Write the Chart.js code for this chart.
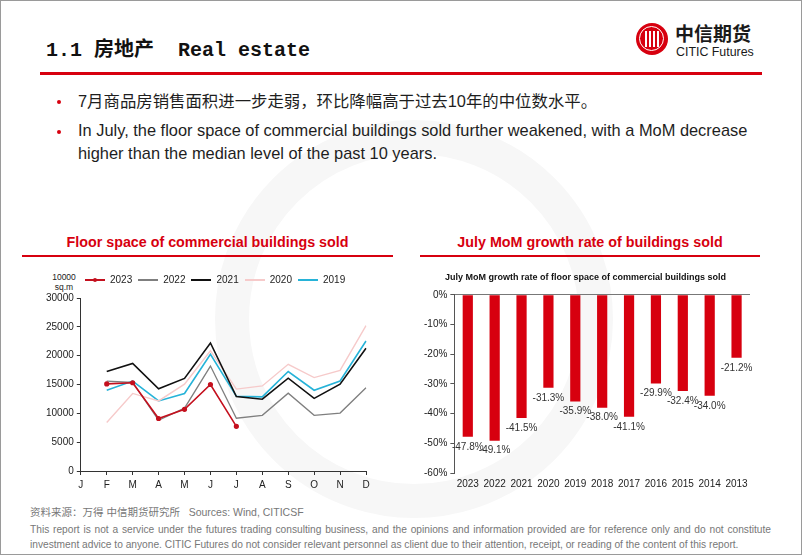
<!DOCTYPE html>
<html lang="zh">
<head>
    <meta charset="UTF-8">
    <title>1.1 房地产 Real estate</title>
    <script src="https://cdn.jsdelivr.net/npm/chart.js"></script>
    <style>
        html, body {
            margin: 0;
            padding: 0;
            background: #fff;
        }
        body {
            width: 802px;
            height: 555px;
            position: relative;
            overflow: hidden;
            font-family: "Liberation Sans", Arial, "Noto Sans CJK SC", sans-serif;
            color: #1e1e1e;
        }
        .frame {
            position: absolute;
            left: 0; top: 0;
            width: 800px; height: 553px;
            border: 1px solid #9a9a9a;
        }
        .watermark {
            position: absolute;
            left: 215px; top: 120px;
            width: 330px; height: 330px;
            border-radius: 50%;
            border: 34px solid #f7f7f7;
        }
        .title {
            position: absolute;
            left: 46px; top: 33px;
            font-family: "Liberation Mono", "Noto Sans CJK SC", monospace;
            font-weight: bold;
            font-size: 20px;
            color: #111;
            white-space: pre;
        }
        .title-rule {
            position: absolute;
            left: 40px; top: 72px;
            width: 722px; height: 3px;
            background: #d7000f;
        }
        .logo-circle {
            position: absolute;
            left: 636px; top: 23px;
            width: 32px; height: 32px;
            border-radius: 50%;
            background: #d7000f;
            overflow: hidden;
        }
        .logo-ring {
            position: absolute;
            left: 3px; top: 3px;
            width: 23px; height: 23px;
            border-radius: 50%;
            border: 1.5px solid #fff;
        }
        .logo-circle i {
            position: absolute;
            top: 8px;
            width: 2px; height: 16px;
            background: #fff;
        }
        .logo-cn {
            position: absolute;
            left: 675px; top: 21px;
            font-family: "Noto Sans CJK SC", sans-serif;
            font-weight: bold;
            font-size: 19px;
            line-height: 24px;
            color: #1a1a1a;
        }
        .logo-en {
            position: absolute;
            left: 676px; top: 46px;
            font-family: "Liberation Sans Narrow", "Liberation Sans", sans-serif;
            font-size: 12.4px;
            line-height: 13px;
            color: #1a1a1a;
        }
        .bullets {
            position: absolute;
            left: 0; top: 90px;
            width: 802px;
            font-size: 16.4px;
            line-height: 23px;
        }
        .bullet {
            position: absolute;
            left: 57px;
            width: 4px; height: 4px;
            border-radius: 50%;
            background: #d7000f;
        }
        .btext {
            position: absolute;
            left: 78px;
            width: 700px;
            white-space: nowrap;
        }
        .sec-title {
            position: absolute;
            top: 234px;
            font-weight: bold;
            font-size: 14.3px;
            color: #d7000f;
            text-align: center;
        }
        .sec-rule {
            position: absolute;
            top: 255px;
            height: 2px;
            background: #d7000f;
        }
        .unit {
            position: absolute;
            left: 50px; top: 272px;
            width: 28px;
            font-size: 8.5px;
            line-height: 10px;
            color: #222;
            text-align: center;
        }
        .chart-box {
            position: absolute;
        }
        .source {
            position: absolute;
            left: 30px; top: 504px;
            font-family: "Liberation Sans Narrow", "Liberation Sans", "Noto Sans CJK SC", sans-serif;
            font-size: 10.5px;
            color: #777;
        }
        .disclaimer {
            position: absolute;
            left: 30px; top: 522px;
            width: 741px;
            font-family: "Liberation Sans Narrow", "Liberation Sans", sans-serif;
            font-size: 10.2px;
            line-height: 15px;
            color: #777;
            text-align: justify;
        }
    </style>
</head>
<body>
    <div class="frame"></div>
    <div class="watermark"></div>

    <div class="title">1.1 房地产  Real estate</div>
    <div class="title-rule"></div>

    <div class="logo-circle"><div class="logo-ring"></div><i style="left:9px"></i><i style="left:13px"></i><i style="left:17px"></i><i style="left:21px"></i></div>
    <div class="logo-cn">中信期货</div>
    <div class="logo-en">CITIC Futures</div>

    <div class="bullets">
        <div class="bullet" style="top:10px"></div>
        <div class="btext" style="top:0px">7月商品房销售面积进一步走弱，环比降幅高于过去10年的中位数水平。</div>
        <div class="bullet" style="top:40px"></div>
        <div class="btext" style="top:29px">In July, the floor space of commercial buildings sold further weakened, with a MoM decrease<br>higher than the median level of the past 10 years.</div>
    </div>

    <div class="sec-title" style="left:22px; width:371px;">Floor space of commercial buildings sold</div>
    <div class="sec-rule" style="left:22px; width:371px;"></div>
    <div class="sec-title" style="left:420px; width:340px;">July MoM growth rate of buildings sold</div>
    <div class="sec-rule" style="left:420px; width:340px;"></div>

    <div class="unit">10000<br>sq.m</div>

    <div class="chart-box" style="left:22px; top:266px; width:355px; height:229px;">
        <canvas id="lineChart"></canvas>
    </div>
    <div class="chart-box" style="left:418px; top:266px; width:360px; height:229px;">
        <canvas id="barChart"></canvas>
    </div>

    <div class="source">资料来源：万得 中信期货研究所&nbsp;&nbsp;&nbsp;Sources: Wind, CITICSF</div>
    <div class="disclaimer">This report is not a service under the futures trading consulting business, and the opinions and information provided are for reference only and do not constitute investment advice to anyone. CITIC Futures do not consider relevant personnel as client due to their attention, receipt, or reading of the content of this report.</div>

    <script>
        // 月份（1-2月合并，1月无数据）
        var months = ['J', 'F', 'M', 'A', 'M', 'J', 'J', 'A', 'S', 'O', 'N', 'D'];

        // 商品房销售面积（万平方米）
        var s2023 = [null, 15100, 15300, 9100, 10700, 15000, 7750, null, null, null, null, null];
        var s2022 = [null, 15600, 15350, 8800, 10900, 18200, 9150, 9650, 13500, 9650, 10050, 14450];
        var s2021 = [null, 17250, 18650, 14250, 16050, 22200, 12900, 12450, 16100, 12600, 15050, 21300];
        var s2020 = [null, 8400, 13450, 12150, 15050, 20850, 14200, 14750, 18500, 16200, 17450, 25200];
        var s2019 = [null, 14000, 15600, 12150, 13450, 20250, 12950, 12850, 17250, 14000, 15600, 22550];

        // 7月环比增速
        var years = ['2023', '2022', '2021', '2020', '2019', '2018', '2017', '2016', '2015', '2014', '2013'];
        var momRates = [-47.8, -49.1, -41.5, -31.3, -35.9, -38.0, -41.1, -29.9, -32.4, -34.0, -21.2];

        var axisFont = { family: '"Liberation Sans", Arial, sans-serif', size: 10 };
        Chart.defaults.color = '#222';

        function lineSet(label, data, color, width, pts) {
            return {
                label: label,
                data: data,
                borderColor: color,
                backgroundColor: color,
                borderWidth: width,
                pointRadius: pts ? 1.8 : 0,
                pointHoverRadius: 0,
                tension: 0,
                spanGaps: false
            };
        }

        // 图例小图标：线段（2023带点）
        function legendIcon(color, dot) {
            var c = document.createElement('canvas');
            c.width = 20;
            c.height = 6;
            var g = c.getContext('2d');
            g.fillStyle = color;
            g.fillRect(0, 2, 20, 2);
            if (dot) {
                g.beginPath();
                g.arc(10, 3, 2, 0, Math.PI * 2);
                g.fill();
            }
            return c;
        }

        var legendShift = {
            id: 'legendShift',
            afterLayout: function (chart) {
                var lg = chart.legend;
                if (!lg) return;
                lg.left += 36;
                lg.right += 36;
                lg.top -= 3;
                lg.bottom -= 3;
            }
        };

        new Chart(document.getElementById('lineChart'), {
            type: 'line',
            data: {
                labels: months,
                datasets: [
                    lineSet('2023', s2023, '#c4101e', 1.6, true),
                    lineSet('2022', s2022, '#7f7f7f', 1.3, false),
                    lineSet('2021', s2021, '#111111', 1.6, false),
                    lineSet('2020', s2020, '#f6caca', 1.4, false),
                    lineSet('2019', s2019, '#27b3d8', 1.6, false)
                ]
            },
            options: {
                responsive: true,
                maintainAspectRatio: false,
                animation: false,
                layout: { padding: { left: 21, right: 11, top: 6, bottom: 0 } },
                plugins: {
                    tooltip: { enabled: false },
                    legend: {
                        display: true,
                        position: 'top',
                        align: 'start',
                        labels: {
                            font: axisFont,
                            color: '#222',
                            usePointStyle: true,
                            pointStyleWidth: 20,
                            boxHeight: 6,
                            padding: 6,
                            generateLabels: function (chart) {
                                var items = Chart.defaults.plugins.legend.labels.generateLabels(chart);
                                items.forEach(function (it, i) {
                                    var ds = chart.data.datasets[i];
                                    it.pointStyle = legendIcon(ds.borderColor, i === 0);
                                });
                                return items;
                            }
                        }
                    }
                },
                scales: {
                    x: {
                        offset: false,
                        grid: { drawOnChartArea: false, tickLength: 4, tickColor: '#333' },
                        border: { color: '#333' },
                        ticks: { font: axisFont, color: '#222', maxRotation: 0, autoSkip: false, padding: 4 }
                    },
                    y: {
                        min: 0,
                        max: 30000,
                        grid: { drawOnChartArea: false, tickLength: 4, tickColor: '#333' },
                        border: { color: '#333' },
                        ticks: {
                            font: axisFont,
                            color: '#222',
                            stepSize: 5000,
                            padding: 3,
                            callback: function (v) { return String(v); }
                        }
                    }
                }
            },
            plugins: [legendShift]
        });

        var barLabels = {
            id: 'barLabels',
            afterDatasetsDraw: function (chart) {
                var ctx = chart.ctx;
                var meta = chart.getDatasetMeta(0);
                ctx.save();
                ctx.font = '10px "Liberation Sans", Arial, sans-serif';
                ctx.fillStyle = '#333';
                ctx.textAlign = 'center';
                ctx.textBaseline = 'top';
                meta.data.forEach(function (bar, i) {
                    ctx.fillText(momRates[i].toFixed(1) + '%', bar.x, bar.y + 5);
                });
                ctx.restore();
            }
        };

        new Chart(document.getElementById('barChart'), {
            type: 'bar',
            data: {
                labels: years,
                datasets: [{
                    label: 'July MoM',
                    data: momRates,
                    backgroundColor: '#d7000f',
                    barPercentage: 0.38,
                    categoryPercentage: 1
                }]
            },
            options: {
                responsive: true,
                maintainAspectRatio: false,
                animation: false,
                layout: { padding: { left: 3, right: 28, top: 0, bottom: 0 } },
                plugins: {
                    tooltip: { enabled: false },
                    legend: { display: false },
                    title: {
                        display: true,
                        text: 'July MoM growth rate of floor space of commercial buildings sold',
                        font: { family: '"Liberation Sans", Arial, sans-serif', size: 9, weight: 'bold' },
                        color: '#111',
                        padding: { top: 6, bottom: 12 }
                    }
                },
                scales: {
                    x: {
                        grid: { display: false, drawTicks: false },
                        border: { display: false },
                        ticks: { font: axisFont, color: '#222', maxRotation: 0, autoSkip: false, padding: 5 }
                    },
                    y: {
                        min: -60,
                        max: 0,
                        grid: {
                            color: function (c) { return c.tick && c.tick.value === 0 ? '#777' : 'rgba(0,0,0,0)'; },
                            tickLength: 4,
                            tickColor: '#555'
                        },
                        border: { color: '#555' },
                        ticks: {
                            font: axisFont,
                            color: '#222',
                            stepSize: 10,
                            padding: 3,
                            callback: function (v) { return v + '%'; }
                        }
                    }
                }
            },
            plugins: [barLabels]
        });
    </script>
</body>
</html>
